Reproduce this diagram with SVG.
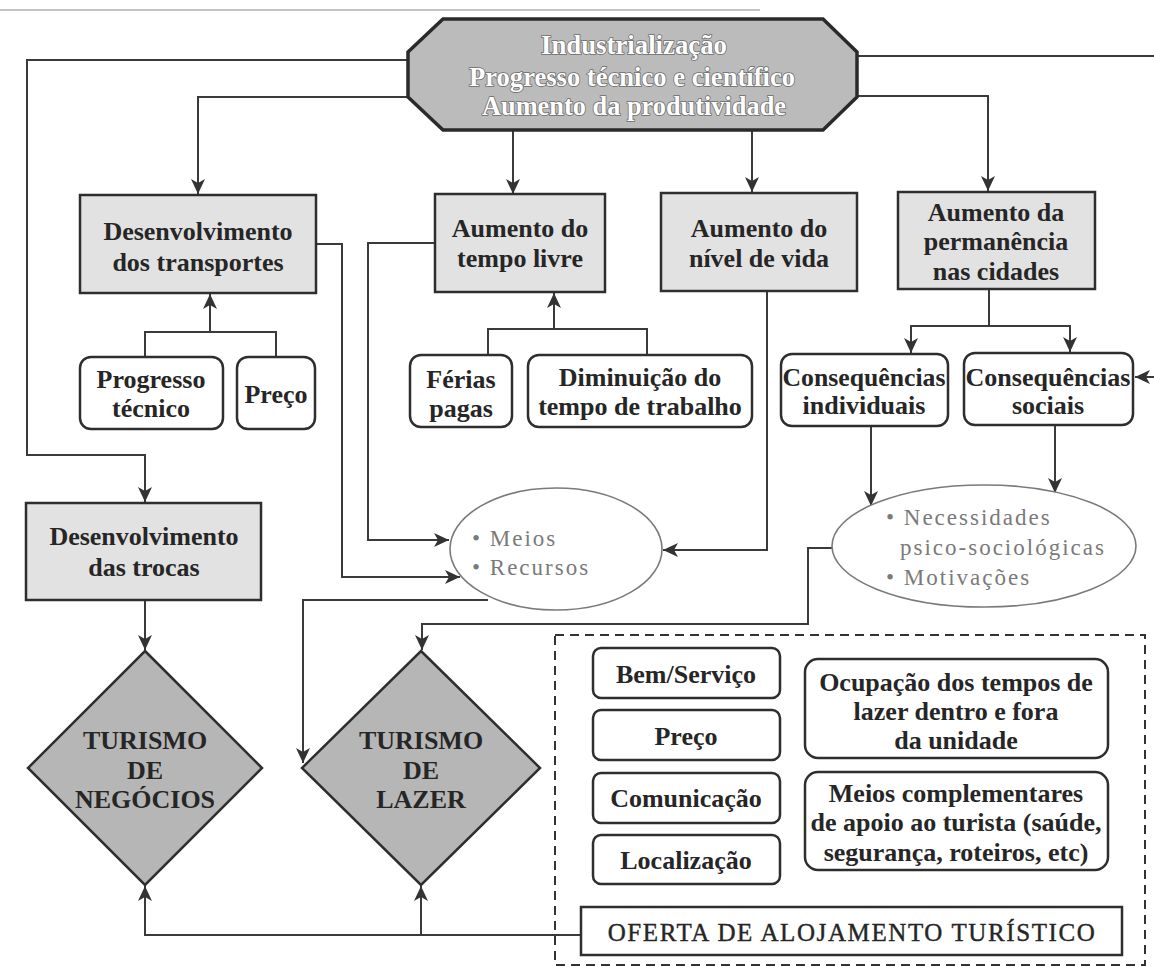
<svg xmlns="http://www.w3.org/2000/svg" width="1154" height="967" viewBox="0 0 1154 967">
<style>
  .bg{fill:#ffffff}
  .box{fill:#e2e2e2;stroke:#2e2e2e;stroke-width:2.5}
  .rbox{fill:#ffffff;stroke:#2e2e2e;stroke-width:2.5}
  .ell{fill:#ffffff;stroke:#7a7a7a;stroke-width:1.6}
  .gray{fill:#b6b6b6;stroke:#2e2e2e;stroke-width:2.5}
  .oct{fill:#bbbbbb;stroke:#2a2a2a;stroke-width:3.5}
  .t{font-family:"Liberation Serif","Times New Roman",serif;font-weight:bold;font-size:26px;fill:#262626;text-anchor:middle}
  .ot{font-family:"Liberation Serif","Times New Roman",serif;font-weight:bold;font-size:27px;fill:#ffffff;stroke:#6a6a6a;stroke-width:1.6;paint-order:stroke;text-anchor:middle}
  .et{font-family:"Liberation Serif","Times New Roman",serif;font-size:23px;fill:#7a7a7a;letter-spacing:2px}
  .of{font-family:"Liberation Serif","Times New Roman",serif;font-size:25px;fill:#262626;stroke:#262626;stroke-width:0.4;letter-spacing:1.6px;text-anchor:middle}
  .c{fill:none;stroke:#3a3a3a;stroke-width:2;marker-end:url(#ah)}
  .cn{fill:none;stroke:#3a3a3a;stroke-width:2}
  .dash{fill:none;stroke:#333;stroke-width:2;stroke-dasharray:9 6}
</style>
<defs>
  <marker id="ah" markerUnits="userSpaceOnUse" markerWidth="16" markerHeight="16" viewBox="0 0 16 16" refX="15" refY="8" orient="auto">
    <path d="M0,1 L15,8 L0,15 L4,8 z" fill="#333"/>
  </marker>
</defs>
<rect class="bg" x="0" y="0" width="1154" height="967"/>
<line x1="0" y1="10" x2="760" y2="10" stroke="#c4c4c4" stroke-width="2"/>

<g id="connectors">
  <path class="c" d="M408,60 H27 V455 H145 V502"/>
  <path class="c" d="M408,97 H198 V194"/>
  <path class="c" d="M513,130 V194"/>
  <path class="c" d="M752,130 V192"/>
  <path class="c" d="M857,96 H988 V191"/>
  <path class="cn" d="M857,56 H1154"/>
  <path class="c" d="M1156,377 H1135"/>
  <path class="cn" d="M145,357 V332 H276 V357"/>
  <path class="c" d="M210,332 V294"/>
  <path class="cn" d="M488,355 V329 H647 V355"/>
  <path class="c" d="M554,329 V293"/>
  <path class="cn" d="M989,289 V326"/>
  <path class="c" d="M989,326 H911 V353"/>
  <path class="c" d="M989,326 H1070 V352"/>
  <path class="c" d="M316,244 H342 V577 H460"/>
  <path class="c" d="M435,243 H368 V540 H449"/>
  <path class="c" d="M767,291 V550 H663"/>
  <path class="c" d="M871,426 V506"/>
  <path class="c" d="M1055,425 V493"/>
  <path class="c" d="M833,548 H808 V624 H422 V650"/>
  <path class="c" d="M488,600 H303 V763"/>
  <path class="c" d="M145,600 V650"/>
  <path class="c" d="M581,935 H145 V886"/>
  <path class="c" d="M421,935 V886"/>
</g>

<g id="n-industrializacao">
  <polygon class="oct" points="443,19 823,19 857,52 857,97 823,130 443,130 408,97 408,52"/>
  <text class="ot" x="634" y="54" textLength="186" lengthAdjust="spacingAndGlyphs">Industrialização</text>
  <text class="ot" x="632" y="86" textLength="326" lengthAdjust="spacingAndGlyphs">Progresso técnico e científico</text>
  <text class="ot" x="634" y="115" textLength="304" lengthAdjust="spacingAndGlyphs">Aumento da produtividade</text>
</g>

<g id="n-transportes">
  <rect class="box" x="80" y="195" width="236" height="98"/>
  <text class="t" x="198" y="240">Desenvolvimento</text>
  <text class="t" x="198" y="271">dos transportes</text>
</g>
<g id="n-tempo-livre">
  <rect class="box" x="435" y="194" width="170" height="98"/>
  <text class="t" x="520" y="237">Aumento do</text>
  <text class="t" x="520" y="267">tempo livre</text>
</g>
<g id="n-nivel-vida">
  <rect class="box" x="661" y="193" width="196" height="98"/>
  <text class="t" x="759" y="237">Aumento do</text>
  <text class="t" x="759" y="267">nível de vida</text>
</g>
<g id="n-permanencia">
  <rect class="box" x="898" y="192" width="197" height="97"/>
  <text class="t" x="996" y="221">Aumento da</text>
  <text class="t" x="996" y="250">permanência</text>
  <text class="t" x="996" y="280">nas cidades</text>
</g>

<g id="n-progresso-tecnico">
  <rect class="rbox" x="80" y="357" width="143" height="72" rx="11"/>
  <text class="t" x="151" y="388">Progresso</text>
  <text class="t" x="151" y="417">técnico</text>
</g>
<g id="n-preco1">
  <rect class="rbox" x="237" y="357" width="78" height="72" rx="11"/>
  <text class="t" x="276" y="403">Preço</text>
</g>
<g id="n-ferias">
  <rect class="rbox" x="410" y="355" width="102" height="72" rx="11"/>
  <text class="t" x="461" y="388">Férias</text>
  <text class="t" x="461" y="417">pagas</text>
</g>
<g id="n-diminuicao">
  <rect class="rbox" x="528" y="355" width="224" height="72" rx="11"/>
  <text class="t" x="640" y="386">Diminuição do</text>
  <text class="t" x="640" y="415">tempo de trabalho</text>
</g>
<g id="n-cons-individuais">
  <rect class="rbox" x="781" y="354" width="167" height="72" rx="11"/>
  <text class="t" x="864" y="386" textLength="163" lengthAdjust="spacingAndGlyphs">Consequências</text>
  <text class="t" x="864" y="414">individuais</text>
</g>
<g id="n-cons-sociais">
  <rect class="rbox" x="964" y="353" width="169" height="72" rx="11"/>
  <text class="t" x="1048" y="386" textLength="165" lengthAdjust="spacingAndGlyphs">Consequências</text>
  <text class="t" x="1048" y="414">sociais</text>
</g>

<g id="n-trocas">
  <rect class="box" x="26" y="503" width="235" height="97"/>
  <text class="t" x="144" y="545">Desenvolvimento</text>
  <text class="t" x="144" y="576">das trocas</text>
</g>

<g id="n-meios">
  <ellipse class="ell" cx="556" cy="549" rx="106" ry="61"/>
  <text class="et" x="472" y="546">• Meios</text>
  <text class="et" x="472" y="575">• Recursos</text>
</g>
<g id="n-necessidades">
  <ellipse class="ell" cx="984" cy="546" rx="152" ry="61"/>
  <text class="et" x="886" y="525">• Necessidades</text>
  <text class="et" x="900" y="555">psico-sociológicas</text>
  <text class="et" x="886" y="585">• Motivações</text>
</g>

<g id="n-turismo-negocios">
  <polygon class="gray" points="145,651 262,768 145,885 28,768"/>
  <text class="t" x="145" y="749">TURISMO</text>
  <text class="t" x="145" y="779">DE</text>
  <text class="t" x="145" y="808">NEGÓCIOS</text>
</g>
<g id="n-turismo-lazer">
  <polygon class="gray" points="421,651 540,768 421,885 302,768"/>
  <text class="t" x="421" y="749">TURISMO</text>
  <text class="t" x="421" y="779">DE</text>
  <text class="t" x="421" y="808">LAZER</text>
</g>

<g id="n-oferta-grupo">
  <rect class="dash" x="555" y="635" width="590" height="330"/>
</g>
<g id="n-bem-servico">
  <rect class="rbox" x="593" y="648" width="187" height="50" rx="8"/>
  <text class="t" x="686" y="683">Bem/Serviço</text>
</g>
<g id="n-preco2">
  <rect class="rbox" x="593" y="710" width="187" height="50" rx="8"/>
  <text class="t" x="686" y="745">Preço</text>
</g>
<g id="n-comunicacao">
  <rect class="rbox" x="593" y="773" width="187" height="50" rx="8"/>
  <text class="t" x="686" y="807">Comunicação</text>
</g>
<g id="n-localizacao">
  <rect class="rbox" x="593" y="835" width="187" height="49" rx="8"/>
  <text class="t" x="686" y="869">Localização</text>
</g>
<g id="n-ocupacao">
  <rect class="rbox" x="805" y="659" width="303" height="99" rx="13"/>
  <text class="t" x="956" y="691">Ocupação dos tempos de</text>
  <text class="t" x="956" y="720">lazer dentro e fora</text>
  <text class="t" x="956" y="749">da unidade</text>
</g>
<g id="n-meios-complementares">
  <rect class="rbox" x="805" y="772" width="303" height="98" rx="13"/>
  <text class="t" x="956" y="802">Meios complementares</text>
  <text class="t" x="956" y="831">de apoio ao turista (saúde,</text>
  <text class="t" x="956" y="861">segurança, roteiros, etc)</text>
</g>
<g id="n-oferta">
  <rect x="581" y="907" width="541" height="48" fill="#ffffff" stroke="#2e2e2e" stroke-width="2.5"/>
  <text class="of" x="852" y="941">OFERTA DE ALOJAMENTO TURÍSTICO</text>
</g>
</svg>
